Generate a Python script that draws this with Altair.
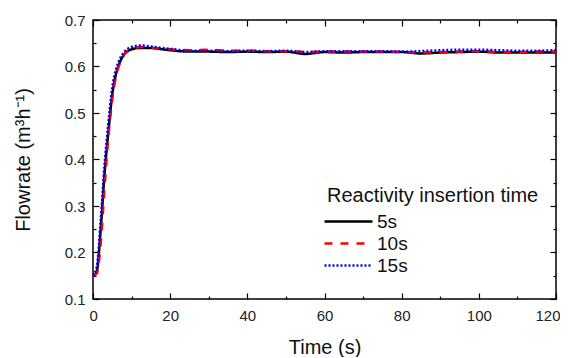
import altair as alt
import pandas as pd

t = [0,1,2,3,4,5,6,7,8,9,10,11,12,13,14,15,17,20,25,30,35,40,45,50,55,60,65,70,75,80,85,90,95,100,105,110,115,120]
y5 = [0.15,0.16,0.25,0.37,0.46,0.54,0.585,0.61,0.625,0.633,0.637,0.639,0.64,0.64,0.64,0.64,0.638,0.635,0.632,0.632,0.631,0.632,0.631,0.632,0.627,0.631,0.630,0.631,0.631,0.631,0.628,0.630,0.631,0.632,0.630,0.630,0.630,0.630]
y10 = [0.15,0.155,0.22,0.34,0.45,0.53,0.58,0.608,0.625,0.634,0.638,0.640,0.642,0.642,0.641,0.640,0.639,0.637,0.635,0.636,0.634,0.634,0.633,0.633,0.631,0.632,0.632,0.632,0.632,0.631,0.630,0.631,0.632,0.633,0.631,0.631,0.632,0.632]
y15 = [0.15,0.17,0.27,0.39,0.48,0.555,0.595,0.617,0.63,0.638,0.642,0.644,0.645,0.645,0.644,0.643,0.641,0.638,0.634,0.634,0.633,0.634,0.633,0.634,0.631,0.633,0.633,0.633,0.633,0.632,0.633,0.635,0.636,0.636,0.635,0.634,0.634,0.635]

series = ["5s", "10s", "15s"]
colors = ["#000000", "#ff0000", "#0000ff"]
dashes = [[1, 0], [8, 8], [2, 2]]

x_major = [0, 20, 40, 60, 80, 100, 120]
x_minor = [10, 30, 50, 70, 90, 110]
y_major = [0.1, 0.2, 0.3, 0.4, 0.5, 0.6, 0.7]
y_minor = [0.15, 0.25, 0.35, 0.45, 0.55, 0.65]

rows = []
for name, ys in zip(series, [y5, y10, y15]):
    for ti, yi in zip(t, ys):
        rows.append({"t": ti, "flow": yi, "series": name})
df = pd.DataFrame(rows)

FONT = "Liberation Sans"
xs = alt.Scale(domain=[0, 120], nice=False, zero=False)
ys_ = alt.Scale(domain=[0.1, 0.7], nice=False, zero=False)

base = alt.Chart(df)

main = base.mark_line(interpolate="monotone", strokeWidth=2.5).encode(
    x=alt.X("t:Q", scale=xs, axis=alt.Axis(
        values=x_major, tickSize=6, offset=-6, domain=False, grid=False,
        labelPadding=9, title="Time (s)", titlePadding=14, format="d",
        labelFlush=True, labelFlushOffset=4, tickColor="black", tickWidth=1.2)),
    y=alt.Y("flow:Q", scale=ys_, axis=alt.Axis(
        values=y_major, tickSize=6, offset=-6, domain=False, grid=False,
        labelPadding=8, title="Flowrate (m³h⁻¹)", titlePadding=31, format=".1f",
        labelFlush=False, tickColor="black", tickWidth=1.2)),
    color=alt.Color("series:N", scale=alt.Scale(domain=series, range=colors),
                    legend=alt.Legend(title="Reactivity insertion time", orient="none",
                                      legendX=234, legendY=166,
                                      symbolType="M-2.4,0L2.4,0", symbolSize=400,
                                      symbolOffset=10, symbolStrokeWidth=2.6,
                                      labelFontSize=19, titleFontSize=20, titleFontWeight="normal",
                                      titleLimit=400, labelLimit=200,
                                      rowPadding=0, labelOffset=17, titlePadding=4,
                                      titleColor="#111", labelColor="#111")),
    strokeDash=alt.StrokeDash("series:N", scale=alt.Scale(domain=series, range=dashes)),
)

def ghost(xaxis, yaxis):
    return base.mark_line(opacity=0).encode(
        x=alt.X("t:Q", scale=xs, axis=xaxis),
        y=alt.Y("flow:Q", scale=ys_, axis=yaxis),
        detail="series:N",
    )

def tick_axis(orient, values, size):
    return alt.Axis(orient=orient, values=values, tickSize=size, offset=-size,
                    domain=False, grid=False, labels=False, title=None,
                    tickColor="black", tickWidth=1.2)

layers = [
    main,
    ghost(tick_axis("bottom", x_minor, 3), None),
    ghost(tick_axis("top", x_major, 6), None),
    ghost(tick_axis("top", x_minor, 3), None),
    ghost(None, tick_axis("left", y_minor, 3)),
    ghost(None, tick_axis("right", y_major, 6)),
    ghost(None, tick_axis("right", y_minor, 3)),
]

chart = alt.layer(*layers).resolve_axis(x="independent", y="independent").properties(
    width=463, height=279,
    autosize=alt.AutoSizeParams(type="none"),
    padding={"left": 85, "top": 12, "right": 4, "bottom": 58},
).configure_view(stroke="black", strokeWidth=1.5).configure_axis(
    labelFont=FONT, titleFont=FONT, labelFontSize=15, titleFontSize=20,
    titleFontWeight="normal", titleColor="#111", labelColor="#222"
).configure_legend(labelFont=FONT, titleFont=FONT)

chart.save("out.html", embed_options={"renderer": "svg", "actions": False})
